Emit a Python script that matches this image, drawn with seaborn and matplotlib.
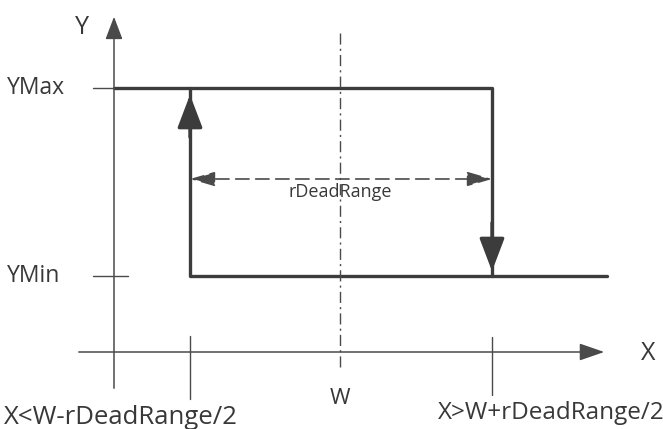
import pandas as pd
import matplotlib.pyplot as plt
import seaborn as sns

# Niveis da saida e posicoes no eixo X (unidades do diagrama)
y_levels = ["YMax", "YMin"]
y_values = [88, 276]
x_ticks = [114, 190, 340, 492]
x_labels = ["", "X<W-rDeadRange/2", "W", "X>W+rDeadRange/2"]
axis_origin = (114, 352)
x_axis_end = 607
y_axis_end = 14
loop_end = 607

sns.set_theme(style="white")
plt.rcParams['font.family'] = ['Open Sans', 'DejaVu Sans']

fig = plt.figure(figsize=(6.63, 4.29), dpi=100)
ax = fig.add_axes([0, 0, 1, 1])
ax.set_xlim(0, 663)
ax.set_ylim(429, 0)
ax.axis("off")

thick = "#3c3c3c"
thin = "#4a4a4a"
txt = "#383838"

ymax, ymin = y_values
x0, xlow, w, xhigh = x_ticks

# ciclo de histerese
loop = pd.DataFrame({
    "x": [x0, xhigh, xhigh, xlow, xlow, loop_end],
    "y": [ymax, ymax, ymin, ymax, ymin, ymin],
    "ramo": ["sup", "sup", "sup", "inf", "inf", "inf"],
})
sns.lineplot(data=loop, x="x", y="y", units="ramo", estimator=None, sort=False,
             color=thick, lw=2.4, ax=ax)

# eixos
ox, oy = axis_origin
ax.annotate("", xy=(x_axis_end, oy), xytext=(76, oy),
            arrowprops=dict(arrowstyle="-|>,head_length=1.1,head_width=0.38",
                            mutation_scale=14, color=thin, lw=1.1))
ax.annotate("", xy=(ox, y_axis_end), xytext=(ox, 391),
            arrowprops=dict(arrowstyle="-|>,head_length=1.0,head_width=0.38",
                            mutation_scale=14, color=thin, lw=1.1))
ax.text(82, 27, "Y", fontsize=18, color=txt, ha="center", va="center")
ax.text(648, 353, "X", fontsize=18, color=txt, ha="center", va="center")

# marcas no eixo Y
for lab, yv in zip(y_levels, y_values):
    ax.plot([93, 128 if lab == "YMin" else ox], [yv, yv], color=thin, lw=1.0)
    ax.text(7, yv, lab, fontsize=16.5, color=txt, ha="left", va="center")

# marcas no eixo X
ax.plot([xlow, xlow], [336, 399], color=thin, lw=1.0)
ax.plot([xhigh, xhigh], [337, 395], color=thin, lw=1.0)
ax.plot([w, w], [33, 367], color=thin, lw=1.0, ls=(0, (8, 3, 1.5, 3)))
ax.text(121, 417, x_labels[1], fontsize=18.5, color=txt, ha="center", va="center")
ax.text(w, 398, x_labels[2], fontsize=16, color=txt, ha="center", va="center")
ax.text(551, 413, x_labels[3], fontsize=17.5, color=txt, ha="center", va="center")

# setas de comutacao
ax.annotate("", xy=(xlow, 92), xytext=(xlow, 140),
            arrowprops=dict(arrowstyle="-|>,head_length=1.45,head_width=0.55",
                            mutation_scale=14, color=thick, lw=2.4))
ax.annotate("", xy=(xhigh, 274), xytext=(xhigh, 220),
            arrowprops=dict(arrowstyle="-|>,head_length=1.45,head_width=0.55",
                            mutation_scale=14, color=thick, lw=2.4))

# faixa morta
ax.annotate("", xy=(xlow, 179), xytext=(xhigh, 179),
            arrowprops=dict(arrowstyle="<|-|>,head_length=1.1,head_width=0.32",
                            mutation_scale=14, color=thin, lw=1.2, ls=(0, (8, 4)),
                            shrinkA=0, shrinkB=0))
ax.text(w, 192, "rDeadRange", fontsize=13, color=txt, ha="center", va="center")

plt.savefig("out.png", dpi=100)
plt.close()
